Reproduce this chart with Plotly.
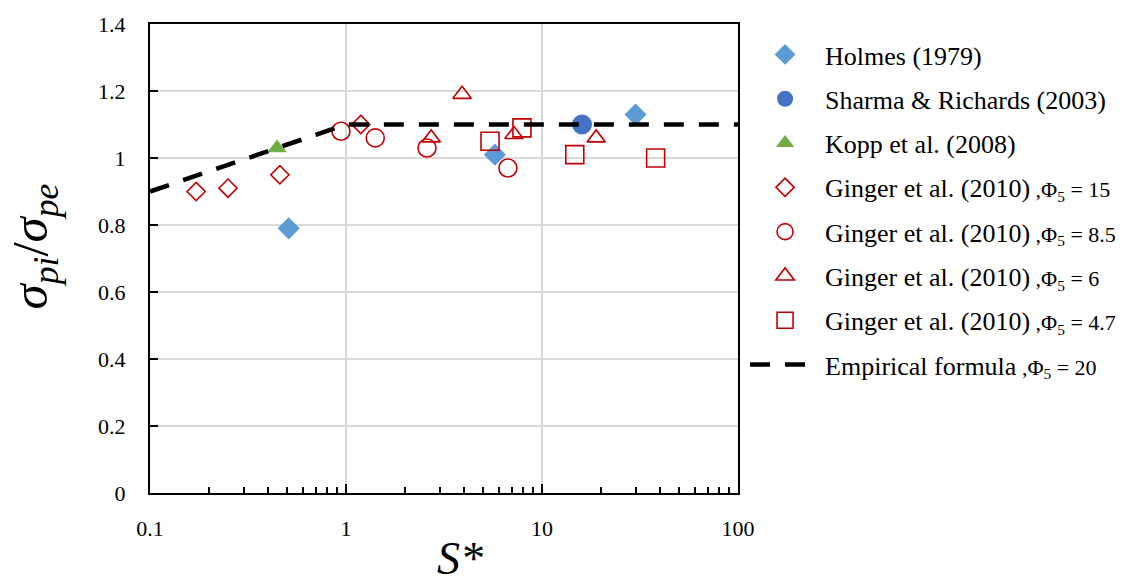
import plotly.graph_objects as go

# Measured ratios of internal to external pressure fluctuation vs. S*
holmes_x = [0.51, 5.75, 30.0]
holmes_y = [0.79, 1.01, 1.13]

sharma_x = [16.0]
sharma_y = [1.10]

kopp_x = [0.445]
kopp_y = [1.03]

ginger15_x = [0.172, 0.25, 0.46, 1.19]
ginger15_y = [0.90, 0.91, 0.95, 1.10]

ginger85_x = [0.943, 1.41, 2.59, 6.7]
ginger85_y = [1.08, 1.06, 1.03, 0.97]

ginger6_x = [2.72, 3.91, 7.2, 18.9]
ginger6_y = [1.06, 1.19, 1.07, 1.06]

ginger47_x = [5.43, 7.9, 14.7, 38.0]
ginger47_y = [1.05, 1.09, 1.01, 1.00]

formula_x = [0.1, 1.0, 100.0]
formula_y = [0.90, 1.10, 1.10]

SERIF = "Liberation Serif"
RED = "#C00000"

fig = go.Figure()

def add_points(name, xs, ys, symbol, size, color, filled=True, group=None):
    marker = dict(symbol=symbol, size=size)
    if filled:
        marker.update(color=color, line=dict(width=0))
    else:
        marker.update(color="rgba(0,0,0,0)", line=dict(color=color, width=1.6))
    fig.add_trace(go.Scatter(x=xs, y=ys, mode="markers", name=name,
                             marker=marker, legendgroup=group or name))

def tag(phi):
    return "<span style='font-size:22px'> ,Φ<sub>5</sub> = %s</span>" % phi

def ginger(phi):
    return "Ginger et al. (2010)" + tag(phi)

add_points("Holmes (1979)", holmes_x, holmes_y, "diamond", 17, "#5B9BD5")
add_points("Sharma &amp; Richards (2003)", sharma_x, sharma_y, "circle", 20, "#4472C4")
add_points("Kopp et al. (2008)", kopp_x, kopp_y, "triangle-up", 17, "#70AD47")
add_points(ginger("15"), ginger15_x, ginger15_y, "diamond", 14, RED, filled=False, group="g15")
add_points(ginger("8.5"), ginger85_x, ginger85_y, "circle", 18, RED, filled=False, group="g85")
add_points(ginger("6"), ginger6_x, ginger6_y, "triangle-up", 16, RED, filled=False, group="g6")
add_points(ginger("4.7"), ginger47_x, ginger47_y, "square", 18, RED, filled=False, group="g47")

fig.add_trace(go.Scatter(x=formula_x, y=formula_y, mode="lines",
                         name="Empirical formula" + tag("20"),
                         line=dict(color="black", width=4.5, dash="20px,15px"),
                         legendgroup="emp"))

fig.update_layout(
    width=1143, height=587,
    margin=dict(l=150, r=405, t=20, b=94),
    paper_bgcolor="white", plot_bgcolor="white",
    font=dict(family=SERIF, size=21, color="black"),
    showlegend=True,
    legend=dict(x=1.012, y=0.985, xanchor="left", yanchor="top",
                itemwidth=70, tracegroupgap=7.5,
                font=dict(size=26, family=SERIF),
                bgcolor="rgba(0,0,0,0)"),
    annotations=[
        dict(text="<i>S*</i>", xref="paper", yref="paper",
             x=0.527, y=-0.198, xanchor="center", yanchor="bottom",
             showarrow=False, font=dict(size=46, family=SERIF)),
        dict(text="<i>σ<sub>pi</sub></i>/<i>σ<sub>pe</sub></i>",
             xref="paper", yref="paper", x=-0.197, y=0.526,
             xanchor="center", yanchor="middle", textangle=-90,
             showarrow=False, font=dict(size=51, family=SERIF)),
    ],
)

fig.update_xaxes(
    type="log", range=[-1, 2], dtick=1,
    showline=True, linecolor="black", linewidth=2, mirror=True,
    showgrid=True, gridcolor="#D9D9D9", gridwidth=1.5,
    ticks="inside", ticklen=9, tickwidth=1.5, tickcolor="black",
    minor=dict(ticks="inside", ticklen=6, tickwidth=1.5, tickcolor="black",
               dtick="D1", showgrid=False),
    tickfont=dict(size=22, family=SERIF),
    ticklabelstandoff=15,
    zeroline=False,
)

fig.update_yaxes(
    range=[0, 1.4], dtick=0.2,
    showline=True, linecolor="black", linewidth=2, mirror=True,
    showgrid=True, gridcolor="#D9D9D9", gridwidth=1.5,
    ticks="inside", ticklen=8, tickwidth=1.5, tickcolor="black",
    tickfont=dict(size=22, family=SERIF),
    ticklabelstandoff=18,
    zeroline=False,
)

fig.write_html("out.html")
